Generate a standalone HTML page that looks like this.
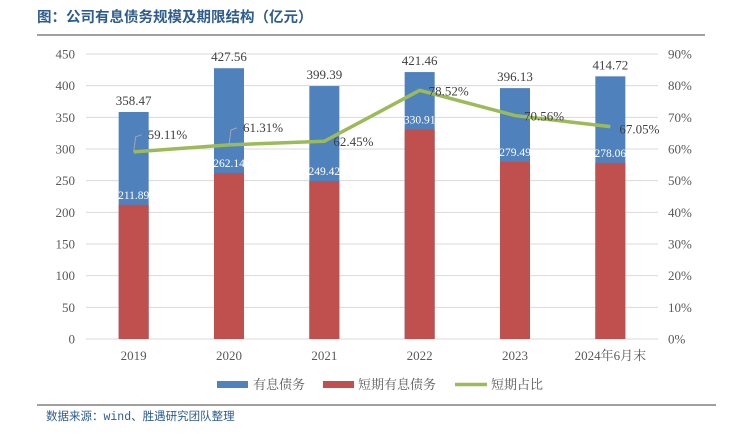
<!DOCTYPE html>
<html><head><meta charset="utf-8"><style>
body{margin:0;background:#fff;width:738px;height:429px;overflow:hidden;font-family:"Liberation Serif","Noto Serif CJK SC",serif;}
</style></head><body>
<svg width="738" height="429" xmlns="http://www.w3.org/2000/svg">
<text x="37" y="22" font-family="'Liberation Sans','Noto Sans CJK SC',sans-serif" font-weight="bold" font-size="14.5" fill="#2E5C8E">图：公司有息债务规模及期限结构（亿元）</text>
<line x1="37" y1="35" x2="705" y2="35" stroke="#808080" stroke-width="1.5"/>
<g id="grid"></g><g id="bars"></g><g id="line"></g><g id="labels"></g>
<g>
<rect x="217" y="381" width="31" height="7" fill="#4F81BD"/>
<text x="253" y="389" font-size="13" fill="#595959">有息债务</text>
<rect x="323" y="381" width="31" height="7" fill="#C0504D"/>
<text x="358" y="389" font-size="13" fill="#595959">短期有息债务</text>
<line x1="455" y1="384.5" x2="487" y2="384.5" stroke="#9BBB59" stroke-width="3.5"/>
<text x="491" y="389" font-size="13" fill="#595959">短期占比</text>
</g>
<line x1="37" y1="405" x2="716" y2="405" stroke="#808080" stroke-width="1.5"/>
<text x="46" y="420" font-family="'Liberation Mono','Noto Sans CJK SC',monospace" font-size="11.5" fill="#2E5C8E">数据来源：wind、胜遇研究团队整理</text>
</svg>
<script>
const categories=["2019","2020","2021","2022","2023","2024年6月末"];
const totalDebt=[358.47,427.56,399.39,421.46,396.13,414.72];
const shortDebt=[211.89,262.14,249.42,330.91,279.49,278.06];
const shortRatio=[59.11,61.31,62.45,78.52,70.56,67.05];
const leftTicks=[0,50,100,150,200,250,300,350,400,450];
const rightTicks=[0,10,20,30,40,50,60,70,80,90];
const NS="http://www.w3.org/2000/svg";
const X0=86,X1=658,Y0=339,Y1=54;
const step=(X1-X0)/categories.length;
const xc=i=>X0+step*(i+0.5);
const yL=v=>Y0-(v/450)*(Y0-Y1);
const yR=v=>Y0-(v/90)*(Y0-Y1);
function mk(tag,at,parent){const e=document.createElementNS(NS,tag);for(const k in at)e.setAttribute(k,at[k]);document.getElementById(parent).appendChild(e);return e;}
leftTicks.forEach((t,i)=>{
 const g=mk('line',{x1:X0,x2:X1,y1:yL(t),y2:yL(t),stroke:'#D9D9D9','stroke-width':1},'grid');
 
 
 const l=mk('text',{x:75,y:yL(t)+4.5,'text-anchor':'end','font-size':13,fill:'#595959'},'grid');l.textContent=t;
 
 
});
rightTicks.forEach(t=>{
 const l=mk('text',{x:668,y:yR(t)+4.5,'font-size':13,fill:'#595959'},'grid');l.textContent=t+'%';
 
 
});
categories.forEach((c,i)=>{
 const l=mk('text',{x:xc(i),y:360,'text-anchor':'middle','font-size':13,fill:'#595959'},'grid');l.textContent=c;
 
 
});
const bw=30;
categories.forEach((c,i)=>{
 const b=mk('rect',{x:xc(i)-bw/2,y:yL(totalDebt[i]),width:bw,height:Y0-yL(totalDebt[i]),fill:'#4F81BD'},'bars');
 
 
 const r=mk('rect',{x:xc(i)-bw/2,y:yL(shortDebt[i]),width:bw,height:Y0-yL(shortDebt[i]),fill:'#C0504D'},'bars');
 
 
 const t=mk('text',{x:xc(i),y:yL(totalDebt[i])-7,'text-anchor':'middle','font-size':13,fill:'#404040'},'labels');t.textContent=totalDebt[i].toFixed(2);
 
 
 const s=mk('text',{x:xc(i),y:yL(shortDebt[i])-6,'text-anchor':'middle','font-size':11.5,fill:'#fff'},'labels');s.textContent=shortDebt[i].toFixed(2);
 
 
});
const pts=shortRatio.map((v,i)=>xc(i)+','+yR(v)).join(' ');
const pl=mk('polyline',{points:pts,fill:'none',stroke:'#9BBB59','stroke-width':3.5,'stroke-linejoin':'round'},'line');


shortRatio.forEach((v,i)=>{
 const x=xc(i),y=yR(v);
 let lx=x+9,ly=y+5;
 if(i<2){
  const ld=mk('polyline',{points:`${x},${y} ${x+2},${y-15} ${x+8},${y-17}`,fill:'none',stroke:'#A6A6A6','stroke-width':1},'labels');
  
  
  lx=x+14;ly=y-13;
 } else if(i===5){ly=y+7;}
 const t=mk('text',{x:lx,y:ly,'font-size':13,fill:'#404040'},'labels');t.textContent=v.toFixed(2)+'%';
 
 
});
</script>
</body></html>
